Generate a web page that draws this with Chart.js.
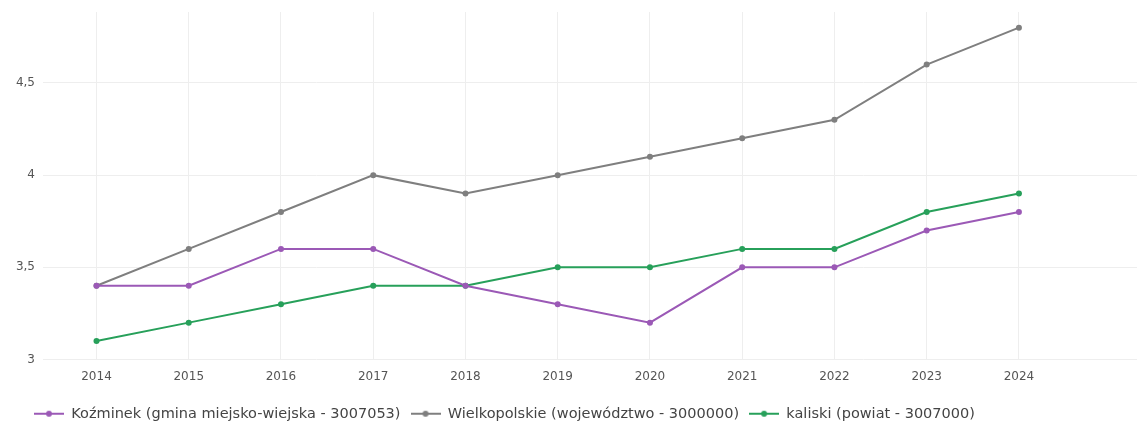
<!DOCTYPE html>
<html>
<head>
<meta charset="utf-8">
<script src="https://cdn.jsdelivr.net/npm/chart.js@4"></script>
<style>
  html, body { margin: 0; padding: 0; background: #fff; }
  #wrap { width: 1141px; height: 428px; position: relative; }
</style>
</head>
<body>
<div id="wrap"><canvas id="chart"></canvas></div>
<script>
// data
const years = [2014, 2015, 2016, 2017, 2018, 2019, 2020, 2021, 2022, 2023, 2024];
const kozminek = [3.4, 3.4, 3.6, 3.6, 3.4, 3.3, 3.2, 3.5, 3.5, 3.7, 3.8];
const wielkopolskie = [3.4, 3.6, 3.8, 4.0, 3.9, 4.0, 4.1, 4.2, 4.3, 4.6, 4.8];
const kaliski = [3.1, 3.2, 3.3, 3.4, 3.4, 3.5, 3.5, 3.6, 3.6, 3.8, 3.9];
const seriesNames = [
  "Koźminek (gmina miejsko-wiejska - 3007053)",
  "Wielkopolskie (województwo - 3000000)",
  "kaliski (powiat - 3007000)",
];
const colors = ["#9b59b6", "#7f7f7f", "#27a05a"];
const yTicks = [3, 3.5, 4, 4.5];

// little "line with dot" marker for legend
function legendMarker(color) {
  const c = document.createElement("canvas");
  c.width = 30; c.height = 10;
  const g = c.getContext("2d");
  g.strokeStyle = color; g.lineWidth = 2;
  g.beginPath(); g.moveTo(0, 5); g.lineTo(30, 5); g.stroke();
  g.fillStyle = color;
  g.beginPath(); g.arc(15, 5, 3, 0, Math.PI * 2); g.fill();
  return c;
}

const toPoints = arr => arr.map((v, i) => ({ x: years[i], y: v }));
const allSeries = [kozminek, wielkopolskie, kaliski];

// nudge the legend right/down, like the original
const shiftLegend = {
  id: "shiftLegend",
  afterLayout(ch) {
    ch.legend.left += 24;
    ch.legend.top += 3;
  },
};

const ctx = document.getElementById("chart").getContext("2d");
const chart = new Chart(ctx, {
  type: "line",
  data: {
    datasets: allSeries.map((arr, i) => ({
      label: seriesNames[i],
      data: toPoints(arr),
      borderColor: colors[i],
      backgroundColor: colors[i],
      borderWidth: 2,
      pointRadius: 3,
      pointBorderWidth: 0,
      tension: 0,
    })),
  },
  plugins: [shiftLegend],
  options: {
    responsive: true,
    maintainAspectRatio: false,
    animation: false,
    layout: { padding: { top: 12, right: 0, left: 0, bottom: 0 } },
    scales: {
      x: {
        type: "linear",
        min: 2013.42,
        max: 2025.28,
        afterBuildTicks: s => { s.ticks = years.map(v => ({ value: v })); },
        afterFit: s => { s.height = 34; },
        grid: { color: "#eeeeee", drawTicks: false },
        border: { display: false },
        ticks: {
          color: "#555",
          font: { family: "DejaVu Sans", size: 12 },
          padding: 10,
          callback: v => String(v),
        },
      },
      y: {
        min: 3,
        max: 4.885,
        afterBuildTicks: s => { s.ticks = yTicks.map(v => ({ value: v })); },
        afterFit: s => {
          s.width = 43;
          s.paddingTop = 0;
          s.paddingBottom = 0;
        },
        grid: { color: "#eeeeee", drawTicks: false },
        border: { display: false },
        ticks: {
          color: "#555",
          font: { family: "DejaVu Sans", size: 12 },
          padding: 8,
          callback: v => String(v).replace(".", ","),
        },
      },
    },
    plugins: {
      legend: {
        position: "bottom",
        align: "start",
        labels: {
          color: "#444",
          font: { family: "DejaVu Sans", size: 14.5 },
          usePointStyle: true,
          pointStyleWidth: 30,
          padding: 10,
          generateLabels: ch => ch.data.datasets.map((d, i) => ({
            text: d.label,
            pointStyle: legendMarker(colors[i]),
            fillStyle: colors[i],
            strokeStyle: colors[i],
            fontColor: "#444",
            datasetIndex: i,
            hidden: false,
          })),
        },
      },
      tooltip: { enabled: false },
    },
  },
});
</script>
</body>
</html>
